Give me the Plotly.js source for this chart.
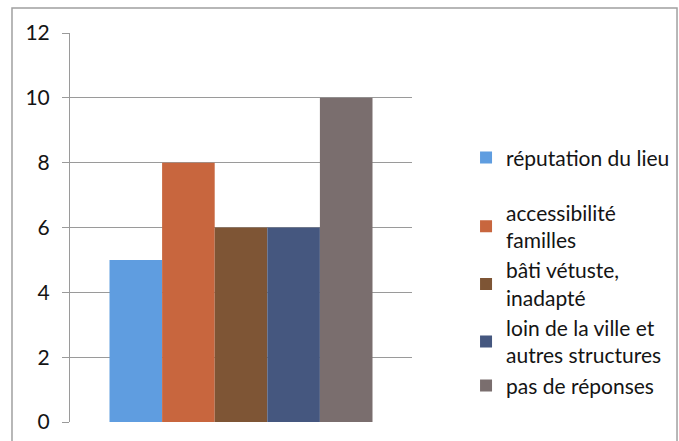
<!DOCTYPE html>
<html>
<head>
<meta charset="utf-8">
<script src="https://cdn.plot.ly/plotly-3.0.1.min.js"></script>
<style>
html,body{margin:0;padding:0;background:#fff;}
#chart{width:679px;height:441px;}
</style>
</head>
<body>
<div id="chart"></div>
<script>
const categories = [""];
const seriesNames = [
  "réputation du lieu",
  "accessibilité<br>familles",
  "bâti vétuste,<br>inadapté",
  "loin de la ville et<br>autres structures",
  "pas de réponses"
];
const seriesValues = [5, 8, 6, 6, 10];
const seriesColors = ["#5f9de0", "#c8663e", "#7e5535", "#45577f", "#7a6e6e"];
const legendGroups = ["a", "b", "b", "b", "b"];
const yTicks = [0, 2, 4, 6, 8, 10, 12];

const traces = seriesNames.map((name, i) => ({
  type: "bar",
  name: name,
  x: categories,
  y: [seriesValues[i]],
  marker: {color: seriesColors[i], line: {width: 0}},
  legendgroup: legendGroups[i],
  hoverinfo: "none"
}));

const layout = {
  width: 679,
  height: 441,
  margin: {l: 70, r: 267, t: 33, b: 19, autoexpand: false},
  paper_bgcolor: "#ffffff",
  plot_bgcolor: "#ffffff",
  font: {family: "Lato, 'Open Sans', sans-serif", size: 21, color: "#141414"},
  barmode: "group",
  bargap: 0.231,
  bargroupgap: 0,
  showlegend: true,
  legend: {
    x: 1.158,
    xanchor: "left",
    xref: "paper",
    y: 0.732,
    yanchor: "top",
    traceorder: "grouped",
    tracegroupgap: 25,
    itemwidth: 30,
    font: {size: 21, color: "#141414"},
    bgcolor: "rgba(0,0,0,0)"
  },
  xaxis: {
    showticklabels: false,
    showgrid: false,
    zeroline: false,
    showline: false,
    ticks: ""
  },
  yaxis: {
    range: [0, 12],
    tickvals: yTicks,
    ticktext: yTicks.map(String),
    showgrid: true,
    gridcolor: "#9a9a9a",
    gridwidth: 1,
    zeroline: false,
    showline: true,
    linecolor: "#9a9a9a",
    linewidth: 1,
    ticks: "outside",
    ticklen: 7,
    tickcolor: "#9a9a9a",
    ticklabelstandoff: 8,
    tickfont: {size: 21, color: "#141414"}
  },
  shapes: [{
    type: "rect",
    xref: "paper", yref: "paper",
    x0: -0.1696, x1: 1.7749, y0: -0.06, y1: 1.0643,
    line: {color: "#a0a0a0", width: 1.5},
    fillcolor: "rgba(0,0,0,0)",
    layer: "below"
  }]
};

Plotly.newPlot("chart", traces, layout, {staticPlot: true, displayModeBar: false});
</script>
</body>
</html>
